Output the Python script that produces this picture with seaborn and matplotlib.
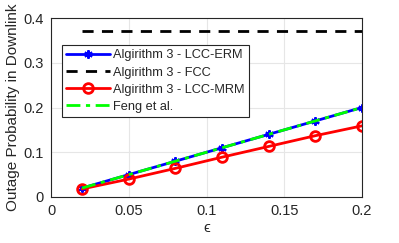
import numpy as np
import pandas as pd
import matplotlib
matplotlib.use("Agg")
import matplotlib.pyplot as plt
import seaborn as sns

eps = [0.02, 0.05, 0.08, 0.11, 0.14, 0.17, 0.2]
lcc_erm = [0.02, 0.05, 0.08, 0.11, 0.14, 0.17, 0.2]
fcc = [0.37, 0.37, 0.37, 0.37, 0.37, 0.37, 0.37]
lcc_mrm = [0.018, 0.040, 0.064, 0.089, 0.113, 0.137, 0.159]
feng = [0.02, 0.05, 0.08, 0.11, 0.14, 0.17, 0.2]
names = ["Algirithm 3 - LCC-ERM", "Algirithm 3 - FCC", "Algirithm 3 - LCC-MRM", "Feng et al."]

sns.set_theme(style="white")
plt.rcParams['font.family'] = ['Liberation Sans', 'DejaVu Sans']

fig = plt.figure(figsize=(3.99, 2.43), dpi=100)
ax = fig.add_axes([51/399, 1-197/243, 311/399, 179/243])

df = pd.DataFrame({"eps": eps * 4,
                   "val": lcc_erm + fcc + lcc_mrm + feng,
                   "series": [n for n in names for _ in eps]})

styles = {
    names[0]: dict(color="#0000ff", linewidth=2, linestyle="-", marker=(6, 2, 0),
                   markersize=6, markeredgewidth=1.5, markeredgecolor="#0000ff"),
    names[1]: dict(color="black", linewidth=2, linestyle=(0, (4, 3))),
    names[2]: dict(color="#ff0000", linewidth=2, linestyle="-", marker="o",
                   markersize=7, markerfacecolor="none", markeredgewidth=2,
                   markeredgecolor="#ff0000"),
    names[3]: dict(color="#00ff00", linewidth=2, linestyle=(0, (5, 2, 1.5, 2))),
}
for n in names:
    sub = df[df.series == n]
    sns.lineplot(data=sub, x="eps", y="val", ax=ax, label=n, **styles[n])

ax.set_xlim(0, 0.2)
ax.set_ylim(0, 0.4)
ax.set_xticks([0, 0.05, 0.1, 0.15, 0.2])
ax.set_xticklabels(["0", "0.05", "0.1", "0.15", "0.2"])
ax.set_yticks([0, 0.1, 0.2, 0.3, 0.4])
ax.set_yticklabels(["0", "0.1", "0.2", "0.3", "0.4"])
ax.grid(True, color="#e6e6e6", lw=0.8)
ax.tick_params(direction="in", length=3, labelsize=10.5, colors="#262626", pad=5)
for s in ax.spines.values():
    s.set_color("#262626")
    s.set_linewidth(0.8)
ax.set_xlabel("\u03f5", fontsize=11, color="#262626", labelpad=2)
ax.set_ylabel("Outage Probability in Downlink", fontsize=11, color="#262626", labelpad=3)

leg = ax.legend(loc="upper left", bbox_to_anchor=(11/311, 152/179), fontsize=9.2,
                frameon=True, fancybox=False, edgecolor="#262626", framealpha=1,
                borderpad=0.35, labelspacing=0.4, handlelength=3.4, handletextpad=0.25,
                borderaxespad=0)
leg.get_frame().set_linewidth(0.8)

fig.savefig("out.png", dpi=100)
